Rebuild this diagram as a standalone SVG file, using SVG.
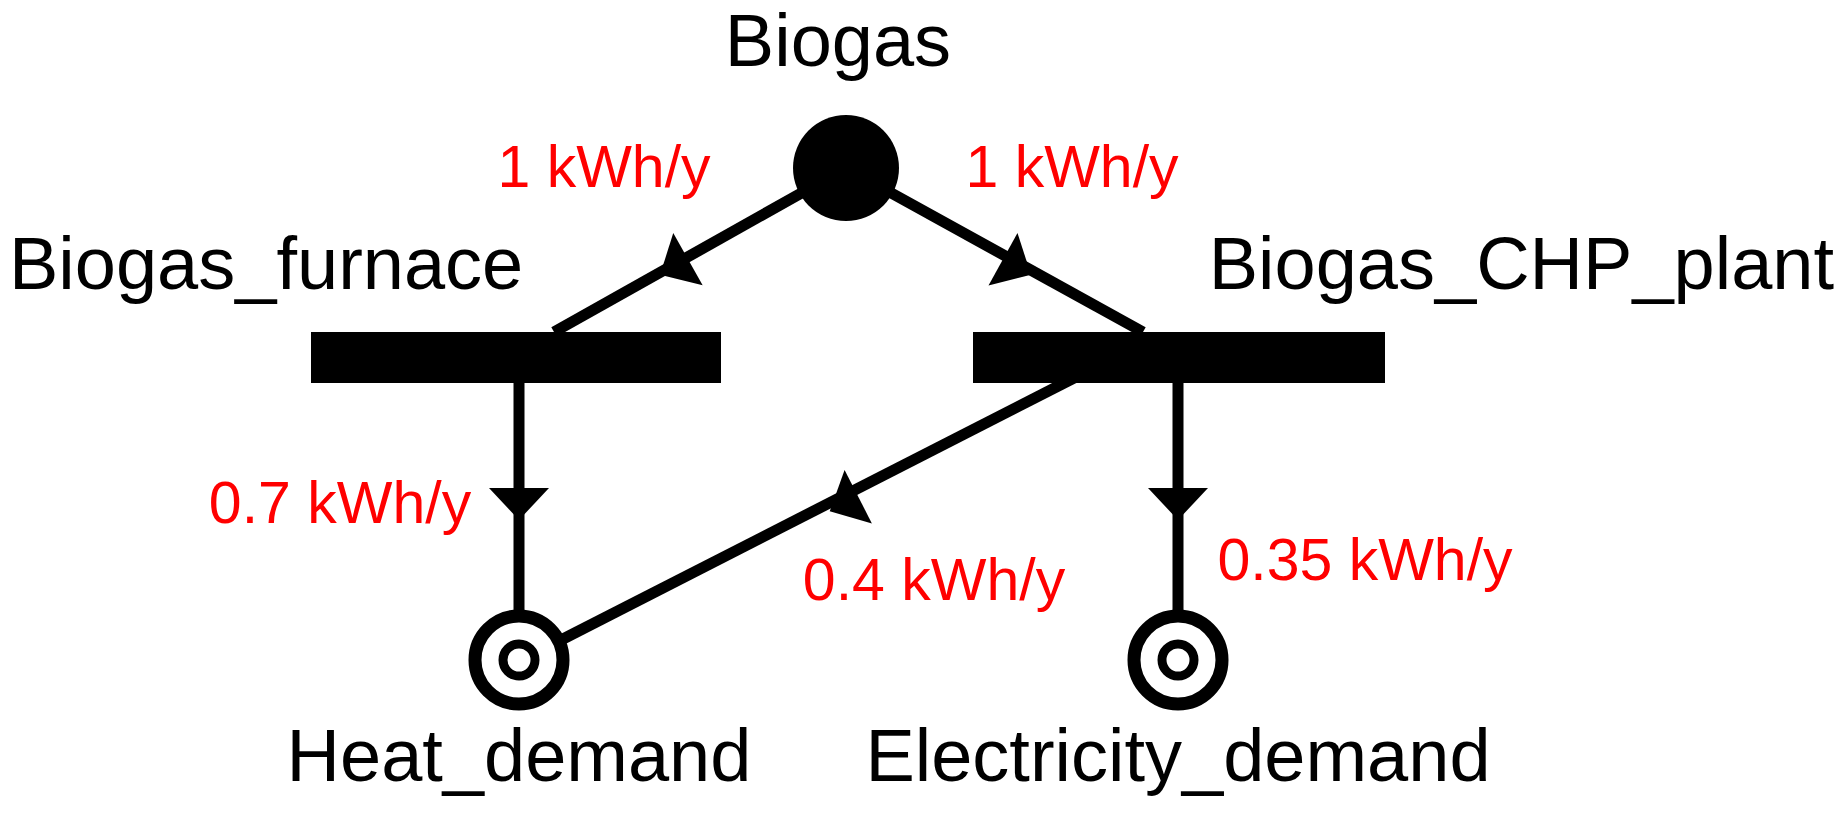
<svg xmlns="http://www.w3.org/2000/svg" width="1840" height="838" viewBox="0 0 1840 838">
<style>
.t{font-family:"Liberation Sans",Arial,sans-serif;font-size:74px;fill:#000}
.r{font-family:"Liberation Sans",Arial,sans-serif;font-size:59px;fill:#ff0000;text-anchor:middle}
.e{stroke:#000;stroke-width:11;fill:none}
</style>
<defs><polygon id="ah" points="16,0 -16,-30 -16,30" fill="#000"/></defs>
<rect width="1840" height="838" fill="#fff"/>
<g id="connectors">
<line class="e" x1="846" y1="168" x2="554" y2="332"/>
<line class="e" x1="846" y1="168" x2="1143" y2="332"/>
<line class="e" x1="519" y1="383" x2="519" y2="612"/>
<line class="e" x1="1178" y1="383" x2="1178" y2="612"/>
<line class="e" x1="1125" y1="352" x2="563" y2="639"/>
<use href="#ah" transform="translate(674,267) rotate(150.7)"/>
<use href="#ah" transform="translate(1017,267) rotate(28.9)"/>
<use href="#ah" transform="translate(519,504) rotate(90)"/>
<use href="#ah" transform="translate(1178,504) rotate(90)"/>
<use href="#ah" transform="translate(844,504) rotate(152.9)"/>
<text class="r" x="604" y="187">1 kWh/y</text>
<text class="r" x="1072" y="187">1 kWh/y</text>
<text class="r" x="340" y="523">0.7 kWh/y</text>
<text class="r" x="934" y="600">0.4 kWh/y</text>
<text class="r" x="1365" y="580">0.35 kWh/y</text>
</g>
<g id="biogas"><circle cx="846" cy="168" r="53" fill="#000"/><text class="t" x="838" y="66" text-anchor="middle">Biogas</text></g>
<g id="furnace"><rect x="311" y="332" width="410" height="51" fill="#000"/><text class="t" x="9" y="289">Biogas_furnace</text></g>
<g id="chp"><rect x="973" y="332" width="412" height="51" fill="#000"/><text class="t" x="1834" y="289" text-anchor="end">Biogas_CHP_plant</text></g>
<g id="heat"><circle cx="519" cy="660" r="44" fill="#fff" stroke="#000" stroke-width="13"/><circle cx="519" cy="660" r="16" fill="#fff" stroke="#000" stroke-width="9"/><text class="t" x="519" y="781" text-anchor="middle">Heat_demand</text></g>
<g id="elec"><circle cx="1178" cy="660" r="44" fill="#fff" stroke="#000" stroke-width="13"/><circle cx="1178" cy="660" r="16" fill="#fff" stroke="#000" stroke-width="9"/><text class="t" x="1178" y="781" text-anchor="middle">Electricity_demand</text></g>
</svg>
